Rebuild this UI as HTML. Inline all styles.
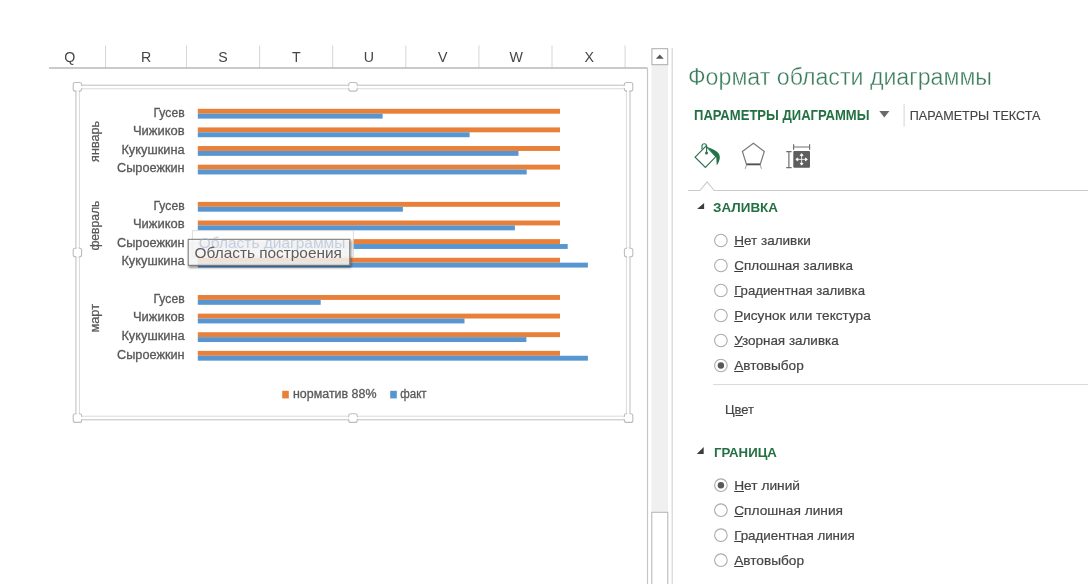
<!DOCTYPE html><html><head><meta charset="utf-8"><style>html,body{margin:0;padding:0;background:#fff;width:1088px;height:584px;overflow:hidden}svg{display:block;will-change:transform;font-family:"Liberation Sans",sans-serif}</style></head><body><svg width="1088" height="584" viewBox="0 0 1088 584"><defs><filter id="sh" x="-10%" y="-30%" width="130%" height="180%"><feGaussianBlur in="SourceAlpha" stdDeviation="1.1"/><feOffset dx="1.4" dy="1.6"/><feComponentTransfer><feFuncA type="linear" slope="0.5"/></feComponentTransfer><feMerge><feMergeNode/><feMergeNode in="SourceGraphic"/></feMerge></filter></defs><line x1="105.5" y1="45.5" x2="105.5" y2="68" stroke="#d6d6d6" stroke-width="1"/><line x1="186.5" y1="45.5" x2="186.5" y2="68" stroke="#d6d6d6" stroke-width="1"/><line x1="259.6" y1="45.5" x2="259.6" y2="68" stroke="#d6d6d6" stroke-width="1"/><line x1="332.7" y1="45.5" x2="332.7" y2="68" stroke="#d6d6d6" stroke-width="1"/><line x1="405.8" y1="45.5" x2="405.8" y2="68" stroke="#d6d6d6" stroke-width="1"/><line x1="478.9" y1="45.5" x2="478.9" y2="68" stroke="#d6d6d6" stroke-width="1"/><line x1="552" y1="45.5" x2="552" y2="68" stroke="#d6d6d6" stroke-width="1"/><line x1="625.1" y1="45.5" x2="625.1" y2="68" stroke="#d6d6d6" stroke-width="1"/><line x1="49" y1="68" x2="647.5" y2="68" stroke="#b8b8b8" stroke-width="1.35"/><text x="69.8" y="61.9" font-size="14.2" fill="#454545" text-anchor="middle">Q</text><text x="146.2" y="61.9" font-size="14.2" fill="#454545" text-anchor="middle">R</text><text x="223.1" y="61.9" font-size="14.2" fill="#454545" text-anchor="middle">S</text><text x="296.3" y="61.9" font-size="14.2" fill="#454545" text-anchor="middle">T</text><text x="368.8" y="61.9" font-size="14.2" fill="#454545" text-anchor="middle">U</text><text x="442.8" y="61.9" font-size="14.2" fill="#454545" text-anchor="middle">V</text><text x="516.2" y="61.9" font-size="14.2" fill="#454545" text-anchor="middle">W</text><text x="589.2" y="61.9" font-size="14.2" fill="#454545" text-anchor="middle">X</text><line x1="647.5" y1="68" x2="647.5" y2="584" stroke="#c6c6c6" stroke-width="1.2"/><line x1="672.2" y1="47.8" x2="672.2" y2="584" stroke="#d4d4d4" stroke-width="1.2"/><rect x="651.4" y="65" width="16.6" height="447" fill="#f0f0f0"/><rect x="651.9" y="48.7" width="15.8" height="16" fill="#fff" stroke="#ababab" stroke-width="1"/><path d="M655.9 58.8 L663.7 58.8 L659.8 54.4 Z" fill="#555"/><rect x="651.8" y="512.3" width="16" height="80" fill="#fff" stroke="#b3b3b3" stroke-width="1"/><rect x="75.9" y="85.2" width="554.1" height="334.6" fill="none" stroke="#c4c4c4" stroke-width="1.1"/><rect x="79.4" y="88.8" width="547" height="327.4" fill="none" stroke="#dadada" stroke-width="1"/><rect x="73.2" y="82.5" width="8.4" height="8.6" rx="2" fill="#fff" stroke="#bdbdbd" stroke-width="1.1"/><rect x="348.8" y="82.5" width="8.4" height="8.6" rx="2" fill="#fff" stroke="#bdbdbd" stroke-width="1.1"/><rect x="624.4" y="82.5" width="8.4" height="8.6" rx="2" fill="#fff" stroke="#bdbdbd" stroke-width="1.1"/><rect x="73.2" y="248.2" width="8.4" height="8.6" rx="2" fill="#fff" stroke="#bdbdbd" stroke-width="1.1"/><rect x="624.4" y="248.2" width="8.4" height="8.6" rx="2" fill="#fff" stroke="#bdbdbd" stroke-width="1.1"/><rect x="73.2" y="413.8" width="8.4" height="8.6" rx="2" fill="#fff" stroke="#bdbdbd" stroke-width="1.1"/><rect x="348.8" y="413.8" width="8.4" height="8.6" rx="2" fill="#fff" stroke="#bdbdbd" stroke-width="1.1"/><rect x="624.4" y="413.8" width="8.4" height="8.6" rx="2" fill="#fff" stroke="#bdbdbd" stroke-width="1.1"/><rect x="348.3" y="85.85" width="9.4" height="2.3" fill="#fff"/><rect x="348.3" y="416.85" width="9.4" height="2.3" fill="#fff"/><rect x="76.55" y="247.8" width="2.3" height="9.4" fill="#fff"/><rect x="627.05" y="247.8" width="2.3" height="9.4" fill="#fff"/><rect x="77.4" y="85.85" width="5" height="2.3" fill="#fff"/><rect x="76.55" y="86.8" width="2.3" height="5" fill="#fff"/><rect x="623.6" y="85.85" width="5" height="2.3" fill="#fff"/><rect x="627.05" y="86.8" width="2.3" height="5" fill="#fff"/><rect x="77.4" y="416.85" width="5" height="2.3" fill="#fff"/><rect x="76.55" y="413.1" width="2.3" height="5" fill="#fff"/><rect x="623.6" y="416.85" width="5" height="2.3" fill="#fff"/><rect x="627.05" y="413.1" width="2.3" height="5" fill="#fff"/><rect x="197.8" y="108.80" width="362.2" height="4.9" fill="#E8803A"/><rect x="197.8" y="113.70" width="184.8" height="4.9" fill="#5896D1"/><text x="184.6" y="116.50" font-size="12" fill="#595959" stroke="#595959" stroke-width="0.3" text-anchor="end" textLength="31.0" lengthAdjust="spacingAndGlyphs">Гусев</text><rect x="197.8" y="127.42" width="362.2" height="4.9" fill="#E8803A"/><rect x="197.8" y="132.32" width="271.8" height="4.9" fill="#5896D1"/><text x="184.6" y="135.12" font-size="12" fill="#595959" stroke="#595959" stroke-width="0.3" text-anchor="end" textLength="51.6" lengthAdjust="spacingAndGlyphs">Чижиков</text><rect x="197.8" y="146.04" width="362.2" height="4.9" fill="#E8803A"/><rect x="197.8" y="150.94" width="320.7" height="4.9" fill="#5896D1"/><text x="184.6" y="153.74" font-size="12" fill="#595959" stroke="#595959" stroke-width="0.3" text-anchor="end" textLength="63.2" lengthAdjust="spacingAndGlyphs">Кукушкина</text><rect x="197.8" y="164.66" width="362.2" height="4.9" fill="#E8803A"/><rect x="197.8" y="169.56" width="328.9" height="4.9" fill="#5896D1"/><text x="184.6" y="172.36" font-size="12" fill="#595959" stroke="#595959" stroke-width="0.3" text-anchor="end" textLength="67.6" lengthAdjust="spacingAndGlyphs">Сыроежкин</text><rect x="197.8" y="201.90" width="362.2" height="4.9" fill="#E8803A"/><rect x="197.8" y="206.80" width="205.1" height="4.9" fill="#5896D1"/><text x="184.6" y="209.60" font-size="12" fill="#595959" stroke="#595959" stroke-width="0.3" text-anchor="end" textLength="31.0" lengthAdjust="spacingAndGlyphs">Гусев</text><rect x="197.8" y="220.52" width="362.2" height="4.9" fill="#E8803A"/><rect x="197.8" y="225.42" width="317.1" height="4.9" fill="#5896D1"/><text x="184.6" y="228.22" font-size="12" fill="#595959" stroke="#595959" stroke-width="0.3" text-anchor="end" textLength="51.6" lengthAdjust="spacingAndGlyphs">Чижиков</text><rect x="197.8" y="239.14" width="362.2" height="4.9" fill="#E8803A"/><rect x="197.8" y="244.04" width="369.9" height="4.9" fill="#5896D1"/><text x="184.6" y="246.84" font-size="12" fill="#595959" stroke="#595959" stroke-width="0.3" text-anchor="end" textLength="67.6" lengthAdjust="spacingAndGlyphs">Сыроежкин</text><rect x="197.8" y="257.76" width="362.2" height="4.9" fill="#E8803A"/><rect x="197.8" y="262.66" width="390.1" height="4.9" fill="#5896D1"/><text x="184.6" y="265.46" font-size="12" fill="#595959" stroke="#595959" stroke-width="0.3" text-anchor="end" textLength="63.2" lengthAdjust="spacingAndGlyphs">Кукушкина</text><rect x="197.8" y="295.00" width="362.2" height="4.9" fill="#E8803A"/><rect x="197.8" y="299.90" width="122.9" height="4.9" fill="#5896D1"/><text x="184.6" y="302.70" font-size="12" fill="#595959" stroke="#595959" stroke-width="0.3" text-anchor="end" textLength="31.0" lengthAdjust="spacingAndGlyphs">Гусев</text><rect x="197.8" y="313.62" width="362.2" height="4.9" fill="#E8803A"/><rect x="197.8" y="318.52" width="266.7" height="4.9" fill="#5896D1"/><text x="184.6" y="321.32" font-size="12" fill="#595959" stroke="#595959" stroke-width="0.3" text-anchor="end" textLength="51.6" lengthAdjust="spacingAndGlyphs">Чижиков</text><rect x="197.8" y="332.24" width="362.2" height="4.9" fill="#E8803A"/><rect x="197.8" y="337.14" width="328.6" height="4.9" fill="#5896D1"/><text x="184.6" y="339.94" font-size="12" fill="#595959" stroke="#595959" stroke-width="0.3" text-anchor="end" textLength="63.2" lengthAdjust="spacingAndGlyphs">Кукушкина</text><rect x="197.8" y="350.86" width="362.2" height="4.9" fill="#E8803A"/><rect x="197.8" y="355.76" width="390.1" height="4.9" fill="#5896D1"/><text x="184.6" y="358.56" font-size="12" fill="#595959" stroke="#595959" stroke-width="0.3" text-anchor="end" textLength="67.6" lengthAdjust="spacingAndGlyphs">Сыроежкин</text><text transform="translate(99.3 141.4) rotate(-90)" x="0" y="0" font-size="12.2" fill="#595959" stroke="#595959" stroke-width="0.25" text-anchor="middle" textLength="41.0" lengthAdjust="spacingAndGlyphs">январь</text><text transform="translate(99.3 225.65) rotate(-90)" x="0" y="0" font-size="12.2" fill="#595959" stroke="#595959" stroke-width="0.25" text-anchor="middle" textLength="49.9" lengthAdjust="spacingAndGlyphs">февраль</text><text transform="translate(99.3 318.25) rotate(-90)" x="0" y="0" font-size="12.2" fill="#595959" stroke="#595959" stroke-width="0.25" text-anchor="middle" textLength="28.700000000000003" lengthAdjust="spacingAndGlyphs">март</text><rect x="282.2" y="390.8" width="6.6" height="7.6" fill="#E8803A"/><text x="293" y="398" font-size="12" fill="#595959" stroke="#595959" stroke-width="0.3" textLength="83.5" lengthAdjust="spacingAndGlyphs">норматив 88%</text><rect x="390.2" y="390.8" width="6.6" height="7.6" fill="#5896D1"/><text x="400.3" y="398" font-size="12" fill="#595959" stroke="#595959" stroke-width="0.3" textLength="26.3" lengthAdjust="spacingAndGlyphs">факт</text><rect x="192.4" y="230.6" width="161" height="26.4" fill="#fff" fill-opacity="0.85" stroke="#cfcfcf" stroke-opacity="0.7" stroke-width="1"/><g filter="url(#sh)"><rect x="188.2" y="239.3" width="161.6" height="26" fill="#fff" fill-opacity="0.76" stroke="#747474" stroke-width="1"/></g><text x="198.8" y="248.4" font-size="15" fill="#9cb3cf" fill-opacity="0.55" textLength="146.5" lengthAdjust="spacingAndGlyphs">Область диаграммы</text><text x="194.6" y="257.8" font-size="15" fill="#615c59" textLength="147.3" lengthAdjust="spacingAndGlyphs">Область построения</text><text x="688" y="84.8" font-size="23" fill="#3a7d5c" stroke="#fff" stroke-width="0.35" textLength="304" lengthAdjust="spacingAndGlyphs">Формат области диаграммы</text><text x="694" y="119.9" font-size="13.9" font-weight="bold" fill="#237043" textLength="175.5" lengthAdjust="spacingAndGlyphs">ПАРАМЕТРЫ ДИАГРАММЫ</text><path d="M879.3 111 L889.4 111 L884.35 117.5 Z" fill="#6a6a6a"/><line x1="904.1" y1="103.7" x2="904.1" y2="126.7" stroke="#d4d4d4" stroke-width="1"/><text x="909.8" y="119.9" font-size="13.7" fill="#444" stroke="#444" stroke-width="0.15" textLength="130.5" lengthAdjust="spacingAndGlyphs">ПАРАМЕТРЫ ТЕКСТА</text><g fill="none" stroke="#2a7150" stroke-width="1.15" stroke-linejoin="miter"><path d="M695.1 157.2 L706 146.2 L715.9 156.6 L705.4 167.4 Z"/><path d="M702 149.4 L702 145.5 A2.4 2.4 0 0 1 706.6 145.5 L706.6 152.5"/></g><circle cx="706.5" cy="152.9" r="1.5" fill="#2a7150"/><path d="M707.8 147.2 C710.5 148 714 149.3 717 151.8 C720.6 154.8 721 159.2 716.8 165.6 L716.2 157 Z" fill="#217346"/><path d="M753.4 143.3 L764.3 151.5 L760.2 164.4 L746.5 164.4 L742.4 151.5 Z" fill="none" stroke="#7a7a7a" stroke-width="1.2" stroke-linejoin="miter"/><line x1="746.5" y1="164.4" x2="760.2" y2="164.4" stroke="#505050" stroke-width="1.8"/><path d="M746.6 164.6 L745.2 168.8 M760.1 164.6 L761.5 168.8" stroke="#9a9a9a" stroke-width="1" fill="none"/><g stroke="#707070" stroke-width="1.2" fill="none"><path d="M793.6 147 L809.6 147 M793.6 144.2 L793.6 149.8 M809.6 144.2 L809.6 149.8"/><path d="M788.9 151.6 L788.9 167.6 M786.2 151.6 L791.6 151.6 M786.2 167.6 L791.6 167.6"/></g><rect x="793.3" y="151.1" width="16.7" height="16.6" rx="1" fill="#5e5e5e"/><g stroke="#fff" stroke-width="0.8" fill="#fff"><path d="M796.6 159.4 L806.6 159.4 M801.6 154.4 L801.6 164.4" fill="none"/><path d="M795.8 159.4 L797.8 157.9 L797.8 160.9 Z M807.4 159.4 L805.4 157.9 L805.4 160.9 Z M801.6 153.6 L800.1 155.6 L803.1 155.6 Z M801.6 165.2 L800.1 163.2 L803.1 163.2 Z"/></g><path d="M688 190.5 L699.9 190.5 L707.1 181.8 L714.3 190.5 L1088 190.5" fill="none" stroke="#cbcbcb" stroke-width="1.1"/><path d="M697.1 209.1 L704.1 209.1 L704.1 203 Z" fill="#3c3c3c"/><text x="713" y="212.4" font-size="13" font-weight="bold" fill="#237043" textLength="65" lengthAdjust="spacingAndGlyphs">ЗАЛИВКА</text><path d="M696.8 453.9 L703.7 453.9 L703.7 447 Z" fill="#3c3c3c"/><text x="713.9" y="456.5" font-size="13" font-weight="bold" fill="#237043" textLength="63" lengthAdjust="spacingAndGlyphs">ГРАНИЦА</text><circle cx="720.9" cy="240.5" r="6.3" fill="#fff" stroke="#ababab" stroke-width="1.1"/><text x="734.2" y="244.9" font-size="13.4" fill="#444" stroke="#444" stroke-width="0.2" textLength="76.5" lengthAdjust="spacingAndGlyphs">Нет заливки</text><line x1="734.2" y1="246.5" x2="744.0" y2="246.5" stroke="#3a3a3a" stroke-width="1"/><circle cx="720.9" cy="265.5" r="6.3" fill="#fff" stroke="#ababab" stroke-width="1.1"/><text x="734.2" y="269.9" font-size="13.4" fill="#444" stroke="#444" stroke-width="0.2" textLength="118.8" lengthAdjust="spacingAndGlyphs">Сплошная заливка</text><line x1="734.2" y1="271.5" x2="743.0" y2="271.5" stroke="#3a3a3a" stroke-width="1"/><circle cx="720.9" cy="290.5" r="6.3" fill="#fff" stroke="#ababab" stroke-width="1.1"/><text x="734.2" y="294.9" font-size="13.4" fill="#444" stroke="#444" stroke-width="0.2" textLength="130.8" lengthAdjust="spacingAndGlyphs">Градиентная заливка</text><line x1="734.2" y1="296.5" x2="741.7" y2="296.5" stroke="#3a3a3a" stroke-width="1"/><circle cx="720.9" cy="315.5" r="6.3" fill="#fff" stroke="#ababab" stroke-width="1.1"/><text x="734.2" y="319.9" font-size="13.4" fill="#444" stroke="#444" stroke-width="0.2" textLength="136.5" lengthAdjust="spacingAndGlyphs">Рисунок или текстура</text><line x1="734.2" y1="321.5" x2="742.8" y2="321.5" stroke="#3a3a3a" stroke-width="1"/><circle cx="720.9" cy="340.5" r="6.3" fill="#fff" stroke="#ababab" stroke-width="1.1"/><text x="734.2" y="344.9" font-size="13.4" fill="#444" stroke="#444" stroke-width="0.2" textLength="104.5" lengthAdjust="spacingAndGlyphs">Узорная заливка</text><line x1="734.2" y1="346.5" x2="742.8" y2="346.5" stroke="#3a3a3a" stroke-width="1"/><circle cx="720.9" cy="365.5" r="6.3" fill="#fff" stroke="#ababab" stroke-width="1.1"/><circle cx="720.9" cy="365.5" r="3.2" fill="#595959"/><text x="734.2" y="369.9" font-size="13.4" fill="#444" stroke="#444" stroke-width="0.2" textLength="69.5" lengthAdjust="spacingAndGlyphs">Автовыбор</text><line x1="734.2" y1="371.5" x2="743.4" y2="371.5" stroke="#3a3a3a" stroke-width="1"/><line x1="713.1" y1="384.6" x2="1088" y2="384.6" stroke="#d8d8d8" stroke-width="1"/><text x="725" y="413.7" font-size="13" fill="#444" stroke="#444" stroke-width="0.2" textLength="29" lengthAdjust="spacingAndGlyphs">Цвет</text><line x1="735.6" y1="415.5" x2="743" y2="415.5" stroke="#3a3a3a" stroke-width="1"/><circle cx="720.9" cy="485.2" r="6.3" fill="#fff" stroke="#ababab" stroke-width="1.1"/><circle cx="720.9" cy="485.2" r="3.2" fill="#595959"/><text x="734.2" y="489.6" font-size="13.4" fill="#444" stroke="#444" stroke-width="0.2" textLength="65.8" lengthAdjust="spacingAndGlyphs">Нет линий</text><line x1="734.2" y1="491.5" x2="744.0" y2="491.5" stroke="#3a3a3a" stroke-width="1"/><circle cx="720.9" cy="510.2" r="6.3" fill="#fff" stroke="#ababab" stroke-width="1.1"/><text x="734.2" y="514.6" font-size="13.4" fill="#444" stroke="#444" stroke-width="0.2" textLength="108.8" lengthAdjust="spacingAndGlyphs">Сплошная линия</text><line x1="734.2" y1="516.5" x2="743.0" y2="516.5" stroke="#3a3a3a" stroke-width="1"/><circle cx="720.9" cy="535.2" r="6.3" fill="#fff" stroke="#ababab" stroke-width="1.1"/><text x="734.2" y="539.6" font-size="13.4" fill="#444" stroke="#444" stroke-width="0.2" textLength="120.5" lengthAdjust="spacingAndGlyphs">Градиентная линия</text><line x1="734.2" y1="541.5" x2="741.7" y2="541.5" stroke="#3a3a3a" stroke-width="1"/><circle cx="720.9" cy="560.2" r="6.3" fill="#fff" stroke="#ababab" stroke-width="1.1"/><text x="734.2" y="564.6" font-size="13.4" fill="#444" stroke="#444" stroke-width="0.2" textLength="69.8" lengthAdjust="spacingAndGlyphs">Автовыбор</text><line x1="734.2" y1="566.5" x2="743.4" y2="566.5" stroke="#3a3a3a" stroke-width="1"/></svg></body></html>
